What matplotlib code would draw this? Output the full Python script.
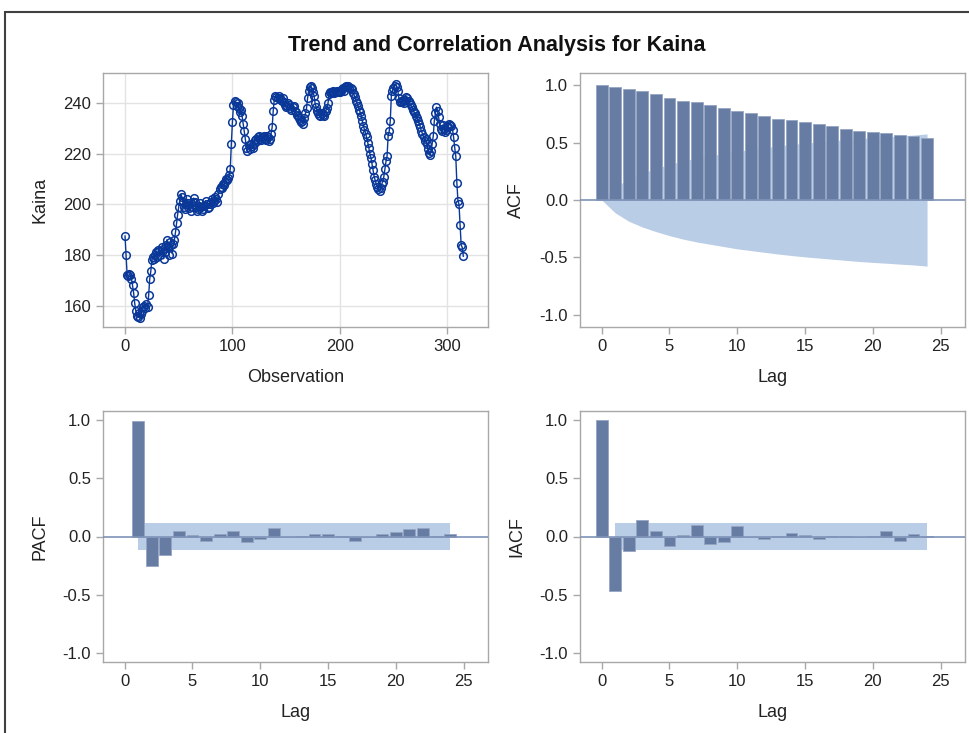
import matplotlib
matplotlib.use("Agg")
import matplotlib.pyplot as plt
import numpy as np
from matplotlib.patches import Rectangle

plt.rcParams['font.family'] = ['Liberation Sans', 'DejaVu Sans']

# Serie Kaina
kaina = [
    187.5, 180.0, 172.0, 171.5, 172.5, 172.0, 170.5, 168.0, 165.0, 161.0,
    158.0, 156.0, 155.5, 157.0, 155.0, 156.5, 158.0, 159.5, 160.0, 159.0,
    160.5, 159.5, 164.0, 170.5, 173.5, 178.0, 179.0, 178.5, 180.0, 181.0,
    179.0, 182.0, 181.5, 180.0, 183.0, 182.5, 178.5, 181.0, 184.0, 186.0,
    183.0, 180.0, 185.0, 184.0, 180.5, 184.5, 186.0, 189.0, 192.5, 196.0,
    199.0, 201.5, 204.0, 203.0, 201.0, 199.0, 198.0, 200.0, 202.0, 200.5,
    198.5, 197.5, 199.0, 201.0, 202.5, 201.0, 199.0, 197.5, 198.0, 199.5,
    200.5, 199.0, 197.5, 198.0, 199.5, 201.5, 200.0, 198.5, 199.0, 200.0,
    201.0, 202.0, 200.5, 201.5, 203.0, 202.0, 201.0, 204.0, 206.0, 207.0,
    206.5, 208.0, 207.5, 209.0, 210.0, 209.5, 210.5, 211.5, 214.0, 224.0,
    232.5, 239.5, 241.0, 240.5, 239.0, 240.0, 238.0, 236.5, 237.5, 235.0,
    232.0, 229.0, 226.0, 222.5, 221.0, 223.5, 222.0, 224.0, 223.0, 222.5,
    224.0, 225.5, 226.0, 225.0, 226.5, 227.0, 226.0, 225.5, 226.5, 227.0,
    226.0, 225.5, 227.0, 226.5, 225.0, 226.0, 228.0, 230.5, 237.0, 241.5,
    243.0, 242.5, 242.0, 243.0, 242.0, 241.5, 241.0, 242.0, 240.5, 239.5,
    238.5, 239.0, 240.0, 239.5, 238.0, 237.5, 238.5, 239.0, 237.0, 236.5,
    235.5, 235.0, 234.0, 233.5, 232.5, 233.0, 232.0, 234.0, 236.0, 238.0,
    242.0, 245.0, 246.5, 247.0, 246.0, 244.5, 243.0, 240.0, 238.5, 237.0,
    236.0, 235.5, 235.0, 236.0, 235.5, 235.0, 236.5, 237.0, 238.0, 240.0,
    243.5, 244.5, 244.0, 244.5, 245.0, 244.0, 244.5, 245.0, 244.5, 245.0,
    244.5, 245.0, 245.5, 246.0, 245.0, 246.5, 247.0, 246.5, 247.0, 246.0,
    246.0, 245.5, 244.0, 243.5, 242.5, 241.0, 240.0, 239.0, 237.5, 236.5,
    235.0, 233.0, 231.0, 229.5, 228.0, 226.5, 224.5, 222.5, 220.0, 218.5,
    216.0, 213.5, 211.0, 209.5, 208.0, 207.0, 206.0, 205.5, 206.5, 208.0,
    209.0, 211.0, 214.0, 217.0, 219.0, 227.0, 229.0, 233.0, 243.0, 245.0,
    246.0, 247.0, 247.5, 246.5, 245.0, 242.0, 240.5, 241.0, 240.5, 241.5,
    240.0, 241.5, 242.5, 242.0, 241.0, 240.0, 239.5, 238.5, 237.5, 236.5,
    236.0, 235.0, 234.0, 233.0, 232.0, 230.5, 229.0, 228.0, 226.5, 225.0,
    226.0, 224.0, 222.0, 220.5, 219.5, 221.0, 224.0, 227.0, 233.0, 236.0,
    238.5, 237.0, 234.5, 232.0, 230.0, 229.0, 231.5, 230.0, 228.5, 229.5,
    231.0, 230.5, 232.0, 231.5, 231.0, 229.5, 226.5, 222.5, 219.0, 208.5,
    201.5, 200.0, 192.0, 184.0, 183.0, 179.5,
]

# ACF, lags 0..24, e banda +-2 erros padrao
acf_lags = list(range(25))
acf = [1.000, 0.986, 0.968, 0.945, 0.919, 0.890, 0.865, 0.850, 0.827, 0.798,
       0.775, 0.761, 0.735, 0.709, 0.697, 0.683, 0.657, 0.640, 0.617, 0.602,
       0.591, 0.579, 0.565, 0.553, 0.536]
acf_band = [0.000, 0.112, 0.185, 0.235, 0.275, 0.310, 0.340, 0.365, 0.385, 0.405,
            0.425, 0.440, 0.455, 0.470, 0.483, 0.495, 0.505, 0.515, 0.525, 0.535,
            0.543, 0.550, 0.558, 0.565, 0.575]

# PACF, lags 1..24
pacf_lags = list(range(1, 25))
pacf = [0.990, -0.257, -0.163, 0.049, 0.012, -0.037, 0.023, 0.051, -0.051, -0.023,
        0.077, -0.006, 0.003, 0.023, 0.023, 0.002, -0.037, -0.008, 0.023, 0.037,
        0.063, 0.077, 0.002, 0.023]

# IACF, lags 0..24
iacf_lags = list(range(25))
iacf = [1.000, -0.473, -0.122, 0.139, 0.048, -0.085, 0.010, 0.099, -0.062, -0.048,
        0.088, -0.006, -0.023, 0.002, 0.034, 0.010, -0.023, 0.008, 0.008, -0.006,
        0.008, 0.048, -0.037, 0.023, 0.003]

band_lags = list(range(1, 25))
band_se = 0.112

line_col = '#0a3898'
bar_col = '#667ca3'
band_col = '#b9cde6'
ref_col = '#7e93b8'
spine_col = '#a8a8a8'
text_col = '#222222'

fig = plt.figure(figsize=(9.7, 7.33), dpi=100)
W, H = 970.0, 733.0


def box(l, t, r, b):
    return [l / W, 1 - b / H, (r - l) / W, (b - t) / H]


ax1 = fig.add_axes(box(103, 73, 488, 327))
ax2 = fig.add_axes(box(580, 73, 965, 327))
ax3 = fig.add_axes(box(103, 411, 488, 662))
ax4 = fig.add_axes(box(580, 411, 965, 662))


def style(ax):
    for s in ax.spines.values():
        s.set_color(spine_col)
        s.set_linewidth(1.0)
    ax.tick_params(colors=spine_col, labelcolor=text_col, labelsize=12,
                   length=5, width=1.0, direction='out')


# Serie temporal
obs = np.arange(len(kaina))
ax1.plot(obs, kaina, color=line_col, lw=1.0, marker='o', ms=5.5,
         mfc='none', mec=line_col, mew=1.1, zorder=3)
ax1.set_xlim(-20.5, 338)
ax1.set_ylim(151.5, 252)
ax1.set_xticks([0, 100, 200, 300])
ax1.set_yticks([160, 180, 200, 220, 240])
ax1.grid(True, color='#e3e3e3', lw=1.0)
ax1.set_axisbelow(True)
ax1.set_xlabel('Observation', fontsize=13, color=text_col, labelpad=11)
ax1.set_ylabel('Kaina', fontsize=13, color=text_col)
style(ax1)


def corr_panel(ax, lags, vals, blags, blo, bhi, ylabel, ylim):
    ax.fill_between(blags, blo, bhi, color=band_col, lw=0, zorder=1)
    ax.bar(lags, vals, width=0.88, color=bar_col, edgecolor='#95a6c4',
           lw=0.6, zorder=2)
    ax.axhline(0, color=ref_col, lw=1.2, zorder=3)
    ax.set_xlim(-1.6, 26.8)
    ax.set_ylim(-ylim, ylim)
    ax.set_xticks([0, 5, 10, 15, 20, 25])
    ax.set_yticks([-1.0, -0.5, 0.0, 0.5, 1.0])
    ax.set_yticklabels(['-1.0', '-0.5', '0.0', '0.5', '1.0'])
    ax.set_xlabel('Lag', fontsize=13, color=text_col, labelpad=11)
    ax.set_ylabel(ylabel, fontsize=13, color=text_col)
    style(ax)


acf_hi = np.array(acf_band)
corr_panel(ax2, acf_lags, acf, acf_lags, -acf_hi, acf_hi, 'ACF', 1.105)

bl = np.full(len(band_lags), band_se)
corr_panel(ax3, pacf_lags, pacf, band_lags, -bl, bl, 'PACF', 1.08)
corr_panel(ax4, iacf_lags, iacf, band_lags, -bl, bl, 'IACF', 1.08)

for ax in (ax1, ax2, ax3, ax4):
    ax.yaxis.set_label_coords(-0.142, 0.5)

fig.text(497 / W, 1 - 45 / H, 'Trend and Correlation Analysis for Kaina',
         ha='center', va='center', fontsize=15.5, fontweight='bold',
         color='#111111')

# moldura do grafico
fig.patches.append(Rectangle((5 / W, -0.05), 1.05, 1 - 12 / H + 0.05,
                             transform=fig.transFigure, fill=False,
                             edgecolor='#404040', lw=1.5))

plt.savefig('out.png', dpi=100)
